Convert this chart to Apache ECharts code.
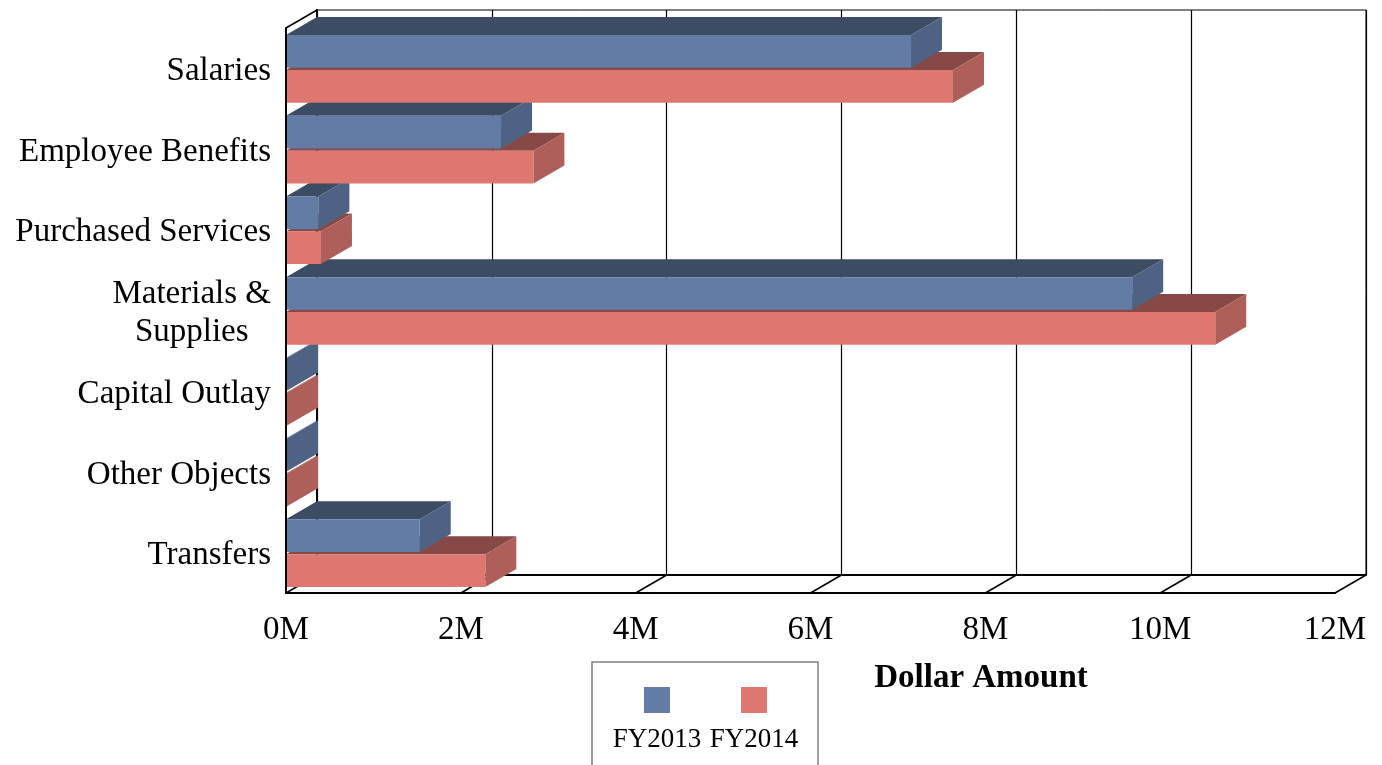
<!DOCTYPE html>
<html>
<head>
<meta charset="utf-8">
<title>Expenditures by Object</title>
<script src="https://cdn.jsdelivr.net/npm/echarts@6/dist/echarts.min.js"></script>
<style>
html, body { margin: 0; padding: 0; background: #fff; }
#chart { width: 1382px; height: 765px; }
</style>
</head>
<body>
<div id="chart"></div>
<script>
// values in millions of dollars
const categories = ['Salaries', 'Employee Benefits', 'Purchased Services', 'Materials &\nSupplies', 'Capital Outlay', 'Other Objects', 'Transfers'];
const fy2013 = [7.15, 2.46, 0.37, 9.68, 0.01, 0.01, 1.53];
const fy2014 = [7.63, 2.83, 0.40, 10.63, 0.01, 0.01, 2.28];
const xTicks = [0, 2, 4, 6, 8, 10, 12];
const seriesNames = ['FY2013', 'FY2014'];

const FRONT = { left: 286, top: 28, right: 47, bottom: 172 };
const BACK = { left: 317, top: 10, right: 16, bottom: 190 };
const DX = BACK.left - FRONT.left;
const DY = FRONT.top - BACK.top;

const palette = [
  { front: '#627CA6', top: '#3C4C65', side: '#4E6284' },
  { front: '#DE776F', top: '#864946', side: '#AF5F5A' }
];
const serif = 'Liberation Serif';

function renderBar(params, api) {
  const s = params.seriesIndex;
  const cat = api.value(1);
  const p0 = api.coord([0, cat]);
  const p1 = api.coord([api.value(0), cat]);
  const band = api.size([0, 1])[1];
  const top = p0[1] - band / 2 + band * (s === 0 ? 0.087 : 0.52);
  const h = band * 0.405;
  const x0 = p0[0];
  const x1 = Math.max(p1[0], x0 + 1);
  const c = palette[s];
  // lower categories first, red before blue inside a category
  const z2 = (categories.length - cat) * 10 + (s === 0 ? 5 : 0);
  return {
    type: 'group',
    children: [
      {
        type: 'polygon',
        shape: { points: [[x0, top], [x1, top], [x1 + DX, top - DY], [x0 + DX, top - DY]] },
        style: { fill: c.top },
        z2: z2
      },
      {
        type: 'polygon',
        shape: { points: [[x1, top], [x1 + DX, top - DY], [x1 + DX, top + h - DY], [x1, top + h]] },
        style: { fill: c.side },
        z2: z2
      },
      {
        type: 'rect',
        shape: { x: x0, y: top, width: x1 - x0, height: h },
        style: { fill: c.front },
        z2: z2
      }
    ]
  };
}

function renderFloor(params, api) {
  const cs = params.coordSys;
  const x = api.coord([api.value(0), 0])[0];
  const floorY = cs.y + cs.height;
  const lineStyle = { stroke: '#000', lineWidth: 1.5 };
  const children = [
    { type: 'line', shape: { x1: x, y1: floorY, x2: x + DX, y2: floorY - DY }, style: lineStyle }
  ];
  if (params.dataIndex === 0) {
    children.push({ type: 'line', shape: { x1: cs.x, y1: cs.y, x2: cs.x + DX, y2: cs.y - DY }, style: lineStyle });
  }
  return { type: 'group', children: children };
}

const chart = echarts.init(document.getElementById('chart'));

const option = {
  backgroundColor: '#fff',
  animation: false,
  grid: [
    Object.assign({ outerBoundsMode: 'none' }, FRONT),
    Object.assign({ outerBoundsMode: 'none', show: true, borderColor: '#000', borderWidth: 1 }, BACK)
  ],
  xAxis: [
    {
      gridIndex: 0,
      type: 'value',
      min: 0,
      max: 12,
      interval: 2,
      axisLine: { show: true, lineStyle: { color: '#000', width: 2 } },
      axisTick: { show: false },
      splitLine: { show: false },
      axisLabel: {
        formatter: v => v + 'M',
        fontFamily: serif,
        fontSize: 33,
        color: '#000',
        margin: 21
      }
    },
    {
      gridIndex: 1,
      type: 'value',
      min: 0,
      max: 12,
      interval: 2,
      axisLine: { show: true, lineStyle: { color: '#000', width: 2 } },
      axisTick: { show: false },
      axisLabel: { show: false },
      splitLine: { show: true, lineStyle: { color: '#000', width: 1.2 } }
    }
  ],
  yAxis: [
    {
      gridIndex: 0,
      type: 'category',
      data: categories,
      inverse: true,
      z: 5,
      axisLine: { show: true, lineStyle: { color: '#000', width: 2 } },
      axisTick: { show: false },
      axisLabel: {
        interval: 0,
        margin: 15,
        padding: [6, 0, 0, 0],
        formatter: v => v.split('\n').map(l => '{c|' + l + '}').join('\n'),
        rich: {
          c: { fontFamily: serif, fontSize: 33, color: '#000', align: 'center', lineHeight: 38 }
        }
      }
    },
    {
      gridIndex: 1,
      type: 'category',
      data: categories,
      inverse: true,
      axisLine: { show: true, lineStyle: { color: '#000', width: 2 } },
      axisTick: { show: false },
      axisLabel: { show: false }
    }
  ],
  series: [
    {
      type: 'custom',
      name: seriesNames[0],
      xAxisIndex: 0,
      yAxisIndex: 0,
      renderItem: renderBar,
      data: fy2013.map((v, i) => [v, i])
    },
    {
      type: 'custom',
      name: seriesNames[1],
      xAxisIndex: 0,
      yAxisIndex: 0,
      renderItem: renderBar,
      data: fy2014.map((v, i) => [v, i])
    },
    {
      type: 'custom',
      name: 'floor',
      xAxisIndex: 0,
      yAxisIndex: 0,
      z: 1,
      silent: true,
      renderItem: renderFloor,
      data: xTicks.map(v => [v, 0])
    }
  ],
  graphic: [
    {
      type: 'text',
      x: 981,
      y: 678,
      style: { text: 'Dollar Amount', fontFamily: serif, fontSize: 33, fontWeight: 'bold', fill: '#000', align: 'center', verticalAlign: 'middle' }
    },
    {
      type: 'rect',
      shape: { x: 592, y: 662, width: 226, height: 130 },
      style: { fill: 'none', stroke: '#7f7f7f', lineWidth: 1.5 }
    },
    { type: 'rect', shape: { x: 644, y: 687, width: 26, height: 26 }, style: { fill: palette[0].front } },
    { type: 'rect', shape: { x: 741, y: 687, width: 26, height: 26 }, style: { fill: palette[1].front } },
    {
      type: 'text',
      x: 657,
      y: 740,
      style: { text: seriesNames[0], fontFamily: serif, fontSize: 27, fill: '#000', align: 'center', verticalAlign: 'middle' }
    },
    {
      type: 'text',
      x: 754,
      y: 740,
      style: { text: seriesNames[1], fontFamily: serif, fontSize: 27, fill: '#000', align: 'center', verticalAlign: 'middle' }
    }
  ]
};

chart.setOption(option);
</script>
</body>
</html>
